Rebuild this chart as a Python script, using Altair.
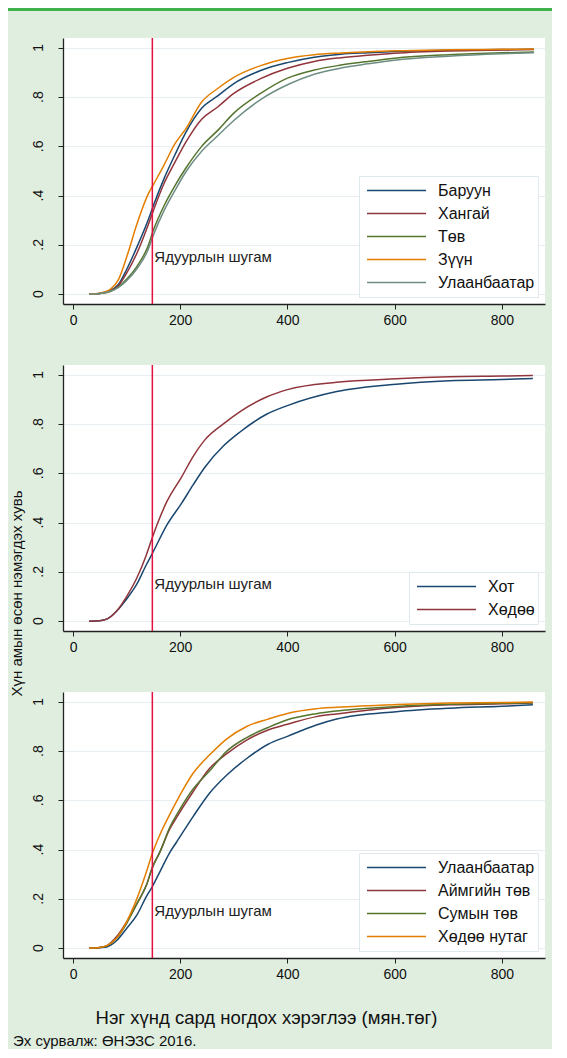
import altair as alt
import pandas as pd

FONT = "Liberation Sans"
BG = "#e0eee0"
HEADER = "#41b14d"

POVERTY_LINE = 148
POVERTY_LABEL = "Ядуурлын шугам"
LABEL_Y = 0.15

X_TICKS = [0, 200, 400, 600, 800]
Y_TICKS = [0, 0.2, 0.4, 0.6, 0.8, 1]
Y_LABELS = ["0", ".2", ".4", ".6", ".8", "1"]
X_DOMAIN = [-18.7, 880.6]
Y_DOMAIN = [-0.04, 1.04]

# ---- Panel 1: regions ----
x_reg = [30, 50, 70, 85, 100, 120, 140, 150, 170, 190, 210, 240, 270, 300, 350, 400, 450, 500, 550, 600, 700, 800, 860]
baruun = [0, 0.003, 0.015, 0.04, 0.10, 0.195, 0.30, 0.36, 0.47, 0.565, 0.655, 0.755, 0.805, 0.855, 0.908, 0.94, 0.962, 0.974, 0.98, 0.985, 0.99, 0.993, 0.994]
khangai = [0, 0.003, 0.013, 0.035, 0.085, 0.17, 0.28, 0.34, 0.45, 0.535, 0.615, 0.71, 0.76, 0.815, 0.875, 0.917, 0.945, 0.96, 0.97, 0.978, 0.987, 0.991, 0.993]
tuv = [0, 0.003, 0.012, 0.03, 0.06, 0.115, 0.195, 0.26, 0.36, 0.44, 0.51, 0.60, 0.665, 0.735, 0.815, 0.877, 0.91, 0.93, 0.945, 0.958, 0.972, 0.98, 0.983]
zuun = [0, 0.004, 0.02, 0.06, 0.15, 0.29, 0.405, 0.445, 0.525, 0.61, 0.67, 0.78, 0.835, 0.88, 0.928, 0.957, 0.972, 0.979, 0.984, 0.988, 0.992, 0.994, 0.995]
ub_reg = [0, 0.003, 0.012, 0.028, 0.055, 0.105, 0.18, 0.24, 0.34, 0.42, 0.495, 0.58, 0.643, 0.705, 0.79, 0.85, 0.893, 0.918, 0.935, 0.95, 0.966, 0.976, 0.98]
reg_names = ["Баруун", "Хангай", "Төв", "Зүүн", "Улаанбаатар"]
reg_colors = ["#1a476f", "#90353b", "#55752f", "#e37e00", "#6e8e84"]

# ---- Panel 2: urban / rural ----
x_ur = [30, 50, 63, 81, 100, 119, 137, 148, 175, 203, 224, 246, 280, 311, 361, 400, 492, 603, 703, 800, 858]
khot = [0, 0.002, 0.008, 0.04, 0.09, 0.15, 0.23, 0.275, 0.39, 0.48, 0.553, 0.625, 0.71, 0.767, 0.84, 0.875, 0.932, 0.962, 0.976, 0.981, 0.985]
khudoo = [0, 0.002, 0.008, 0.04, 0.10, 0.175, 0.27, 0.34, 0.485, 0.587, 0.668, 0.736, 0.80, 0.85, 0.91, 0.94, 0.97, 0.984, 0.992, 0.995, 0.997]
ur_names = ["Хот", "Хөдөө"]
ur_colors = ["#1a476f", "#90353b"]

# ---- Panel 3: settlement type ----
x_set = [30, 50, 63, 81, 100, 119, 137, 148, 162, 181, 193, 224, 255, 287, 324, 364, 400, 454, 492, 603, 703, 800, 858]
ub_set = [0, 0.002, 0.005, 0.03, 0.08, 0.134, 0.21, 0.25, 0.31, 0.39, 0.43, 0.534, 0.63, 0.703, 0.77, 0.828, 0.86, 0.906, 0.93, 0.96, 0.974, 0.982, 0.988]
aimag = [0, 0.003, 0.01, 0.046, 0.107, 0.18, 0.256, 0.327, 0.39, 0.486, 0.53, 0.635, 0.73, 0.79, 0.845, 0.886, 0.909, 0.94, 0.951, 0.977, 0.988, 0.992, 0.995]
sum_tuv = [0, 0.003, 0.009, 0.04, 0.10, 0.18, 0.256, 0.327, 0.39, 0.493, 0.54, 0.646, 0.72, 0.80, 0.855, 0.896, 0.927, 0.952, 0.963, 0.981, 0.99, 0.994, 0.996]
khudoo_nutag = [0, 0.003, 0.01, 0.04, 0.107, 0.20, 0.31, 0.385, 0.46, 0.545, 0.595, 0.71, 0.785, 0.85, 0.90, 0.93, 0.953, 0.972, 0.978, 0.989, 0.995, 0.997, 0.999]
set_names = ["Улаанбаатар", "Аймгийн төв", "Сумын төв", "Хөдөө нутаг"]
set_colors = ["#1a476f", "#90353b", "#55752f", "#e37e00"]

Y_TITLE = "Хүн амын өсөн нэмэгдэх хувь"
X_TITLE = "Нэг хүнд сард ногдох хэрэглээ (мян.төг)"
NOTE = "Эх сурвалж: ӨНЭЗС 2016."

W, H = 482, 266


def long_df(xs, series, names):
    rows = []
    for name, vals in zip(names, series):
        for i, (x, v) in enumerate(zip(xs, vals)):
            rows.append({"x": x, "v": v, "s": name, "i": i})
    return pd.DataFrame(rows)


def panel(df, names, colors, x_title=False, y_title=False, header=False):
    xa = dict(values=X_TICKS, format="d", grid=False, domainColor="#222", domainWidth=1.3,
              tickColor="#222", tickSize=5, tickWidth=1, labelFont=FONT, labelFontSize=14,
              labelColor="#111", labelPadding=4, labelFlush=False, labelOverlap=False)
    if x_title:
        xa.update(title=X_TITLE, titleFont=FONT, titleFontSize=18.5, titleFontWeight="normal",
                  titleColor="#111", titleX=203, titleY=59, titleAlign="center",
                  titleBaseline="middle")
    else:
        xa.update(title=None)
    ya = dict(values=Y_TICKS, labels=False,
              grid=True, gridColor="#e6eef1", gridWidth=1, domainColor="#222", domainWidth=1.3,
              tickColor="#222", tickSize=5, tickWidth=1)
    if y_title:
        ya.update(title=Y_TITLE, titleFont=FONT, titleFontSize=15, titleFontWeight="normal",
                  titleColor="#111", titleAngle=270, titleX=-47, titleY=228,
                  titleAlign="center", titleBaseline="middle")
    else:
        ya.update(title=None)
    leg = alt.Legend(title=None, orient="bottom-right", offset=7, fillColor="white",
                     strokeColor="#dfe8ec", padding=3, symbolType="stroke", symbolOffset=4,
                     symbolSize=3481, symbolStrokeWidth=1.5, clipHeight=23, rowPadding=0,
                     labelFont=FONT, labelFontSize=16, labelColor="#111", labelOffset=11,
                     cornerRadius=0)
    xs = alt.Scale(domain=X_DOMAIN, nice=False, zero=False)
    ys = alt.Scale(domain=Y_DOMAIN, nice=False, zero=False)
    lines = alt.Chart(df).mark_line(strokeWidth=1.5, interpolate="monotone").encode(
        x=alt.X("x:Q", scale=xs, axis=alt.Axis(**xa)),
        y=alt.Y("v:Q", scale=ys, axis=alt.Axis(**ya)),
        color=alt.Color("s:N", scale=alt.Scale(domain=names, range=colors), legend=leg),
        order=alt.Order("i:Q"),
    )
    ylabels = alt.Chart(pd.DataFrame({"v": Y_TICKS, "t": Y_LABELS})).mark_text(
        angle=270, align="center", baseline="alphabetic", font=FONT, fontSize=14, color="#111"
    ).encode(y=alt.Y("v:Q", scale=ys), x=alt.value(-20), text="t:N")
    rule = alt.Chart(pd.DataFrame({"x": [POVERTY_LINE]})).mark_rule(
        color="#e4103f", strokeWidth=1.5).encode(x="x:Q")
    label = alt.Chart(pd.DataFrame({"x": [POVERTY_LINE], "v": [LABEL_Y], "t": [POVERTY_LABEL]})).mark_text(
        align="left", baseline="middle", dx=2, font=FONT, fontSize=15, color="#222"
    ).encode(x="x:Q", y="v:Q", text="t:N")
    layers = []
    if header:
        layers.append(alt.Chart(pd.DataFrame({"a": [0]})).mark_rect(color=HEADER).encode(
            x=alt.value(-55), x2=alt.value(489), y=alt.value(-30), y2=alt.value(-27)))
    layers += [lines, ylabels, rule, label]
    return alt.layer(*layers).properties(width=W, height=H)


p1 = panel(long_df(x_reg, [baruun, khangai, tuv, zuun, ub_reg], reg_names), reg_names, reg_colors, header=True)
p2 = panel(long_df(x_ur, [khot, khudoo], ur_names), ur_names, ur_colors, y_title=True)
p3 = panel(long_df(x_set, [ub_set, aimag, sum_tuv, khudoo_nutag], set_names), set_names, set_colors, x_title=True)

chart = alt.vconcat(p1, p2, p3, spacing=61, bounds="flush").resolve_scale(
    color="independent"
).properties(
    padding=0,
    title=alt.TitleParams(text=NOTE, orient="bottom", anchor="start", font=FONT, fontSize=15,
                          fontWeight="normal", color="#111", offset=7, dx=5),
).configure(background=BG, font=FONT).configure_view(fill="white", strokeWidth=0)

chart.save("out.html", embed_options={"renderer": "svg", "actions": False})
